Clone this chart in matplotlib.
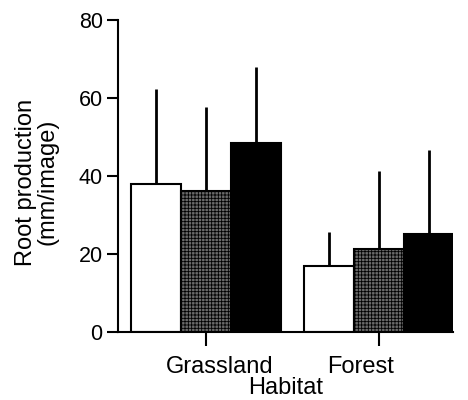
import numpy as np
import matplotlib
matplotlib.use("Agg")
import matplotlib.pyplot as plt

# data
habitats = ["Grassland", "Forest"]
white_means = [37.9, 16.8]
white_err = [24.3, 8.9]
gray_means = [36.1, 21.2]
gray_err = [21.7, 20.1]
black_means = [48.4, 25.1]
black_err = [19.5, 21.6]
yticks = [0, 20, 40, 60, 80]

plt.rcParams['font.family'] = ['Liberation Sans', 'DejaVu Sans']
plt.rcParams['hatch.linewidth'] = 0.6

fig = plt.figure(figsize=(4.68, 4.0), dpi=100)
ax = fig.add_axes([0.252, 0.17, 0.716, 0.78])

centers = np.array([0.0, 3.46])
w = 1.0
series = [
    (white_means, white_err, -w, dict(color="white")),
    (gray_means, gray_err, 0.0, dict(color="#6a6a6a", hatch="+++++")),
    (black_means, black_err, w, dict(color="black")),
]
for means, err, off, style in series:
    x = centers + off
    ax.errorbar(x, means, yerr=[np.zeros(len(means)), err], fmt="none",
                ecolor="black", elinewidth=2, capsize=0, zorder=1)
    ax.bar(x, means, width=w, edgecolor="black", linewidth=1.5, zorder=2, **style)

ax.set_xlim(-1.76, 4.94)
ax.set_ylim(0, 80)
ax.set_yticks(yticks)
ax.set_xticks(centers)
ax.set_xticklabels(["", ""])
ax.tick_params(axis="y", labelsize=15.5, length=8, width=1.5, pad=3)
ax.tick_params(axis="x", length=10, width=1.5)

for s in ["top", "right"]:
    ax.spines[s].set_visible(False)
ax.spines["left"].set_linewidth(1.5)
ax.spines["bottom"].set_linewidth(1.5)

# category labels sit a bit off the ticks in the original
ax.text(centers[0] + 0.28, -10.4, habitats[0], ha="center", va="baseline", fontsize=17)
ax.text(centers[1] - 0.36, -10.4, habitats[1], ha="center", va="baseline", fontsize=17)
fig.text(286 / 468, 1 - 394 / 400, "Habitat", ha="center", va="baseline", fontsize=17)

fig.text(37 / 468, 1 - 182 / 400, "Root production\n(mm/image)", ha="center",
         va="center", rotation=90, fontsize=17, linespacing=0.95)

fig.savefig("out.png", dpi=100)
